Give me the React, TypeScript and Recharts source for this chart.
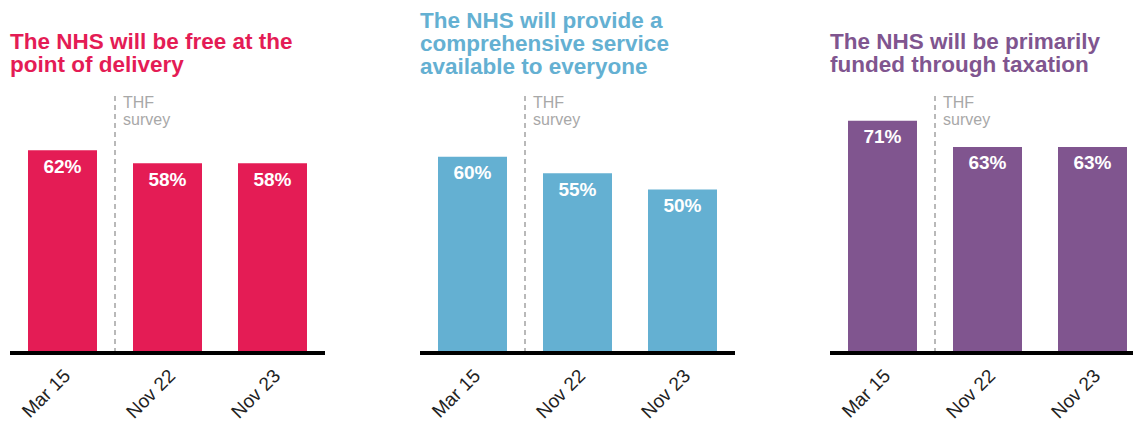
import React from "react";
import { BarChart, Bar, XAxis, YAxis, LabelList, ReferenceLine } from "recharts";

const categories = ["Mar 15", "Nov 22", "Nov 23"];
const freeValues = [62, 58, 58];
const comprehensiveValues = [60, 55, 50];
const taxationValues = [71, 63, 63];
const titles = [
  ["The NHS will be free at the", "point of delivery"],
  ["The NHS will provide a", "comprehensive service", "available to everyone"],
  ["The NHS will be primarily", "funded through taxation"],
];
const colors = ["#E41C55", "#64B0D2", "#80558F"];
const surveyLabel = ["THF", "survey"];

const FONT = "'Liberation Sans', Arial, sans-serif";

const build = (vals: number[]) => categories.map((c, i) => ({ name: c, value: vals[i] }));

const Tick = (props: any) => {
  const { x, y, payload } = props;
  const ax = x + 9;
  const ay = y + 16;
  return (
    <text
      x={ax}
      y={ay}
      transform={`rotate(-45, ${ax}, ${ay})`}
      textAnchor="end"
      fill="#222"
      fontSize={19}
      fontFamily={FONT}
    >
      {payload.value}
    </text>
  );
};

const SurveyLabel = (props: any) => {
  const vb = props.viewBox || {};
  const x = vb.x + 8;
  const y = vb.y;
  return (
    <g>
      <text x={x} y={y + 13} fill="#A8A8A8" fontSize={16} fontFamily={FONT}>
        {surveyLabel[0]}
      </text>
      <text x={x} y={y + 30} fill="#A8A8A8" fontSize={16} fontFamily={FONT}>
        {surveyLabel[1]}
      </text>
    </g>
  );
};

const Panel = ({ values, color, title, left, titleTop }: any) => {
  const data = build(values);
  return (
    <div style={{ position: "absolute", left, top: 0, width: 315, height: 422 }}>
      <div
        style={{
          position: "absolute",
          left: 0,
          top: titleTop,
          color,
          fontFamily: FONT,
          fontWeight: "bold",
          fontSize: 22.5,
          lineHeight: "23px",
          whiteSpace: "nowrap",
        }}
      >
        {title.map((t: string, i: number) => (
          <div key={i}>{t}</div>
        ))}
      </div>
      <BarChart
        width={315}
        height={422}
        data={data}
        margin={{ top: 26, right: 0, left: 0, bottom: 9 }}
        barCategoryGap={18}
        style={{ position: "absolute", left: 0, top: 0 }}
      >
        <XAxis
          dataKey="name"
          height={60}
          tickLine={false}
          axisLine={{ stroke: "#000", strokeWidth: 4 }}
          tick={<Tick />}
          interval={0}
        />
        <YAxis hide domain={[0, 100]} />
        <ReferenceLine
          segment={[
            { x: "Mar 15", y: 0 },
            { x: "Mar 15", y: 79 },
          ]}
          position="end"
          stroke="#A8A8A8"
          strokeWidth={1.6}
          strokeDasharray="5 4"
          label={<SurveyLabel />}
        />
        <Bar dataKey="value" fill={color} isAnimationActive={false}>
          <LabelList
            dataKey="value"
            position="insideTop"
            offset={9}
            formatter={(v: any) => `${v}%`}
            fill="#fff"
            fontSize={19}
            fontWeight="bold"
            fontFamily={FONT}
          />
        </Bar>
      </BarChart>
    </div>
  );
};

export default function App() {
  return (
    <div
      style={{
        position: "absolute",
        left: 0,
        top: 0,
        width: 1133,
        height: 422,
        overflow: "hidden",
        background: "#fff",
      }}
    >
      <Panel values={freeValues} color={colors[0]} title={titles[0]} left={10} titleTop={30} />
      <Panel values={comprehensiveValues} color={colors[1]} title={titles[1]} left={420} titleTop={9} />
      <Panel values={taxationValues} color={colors[2]} title={titles[2]} left={830} titleTop={30} />
    </div>
  );
}
